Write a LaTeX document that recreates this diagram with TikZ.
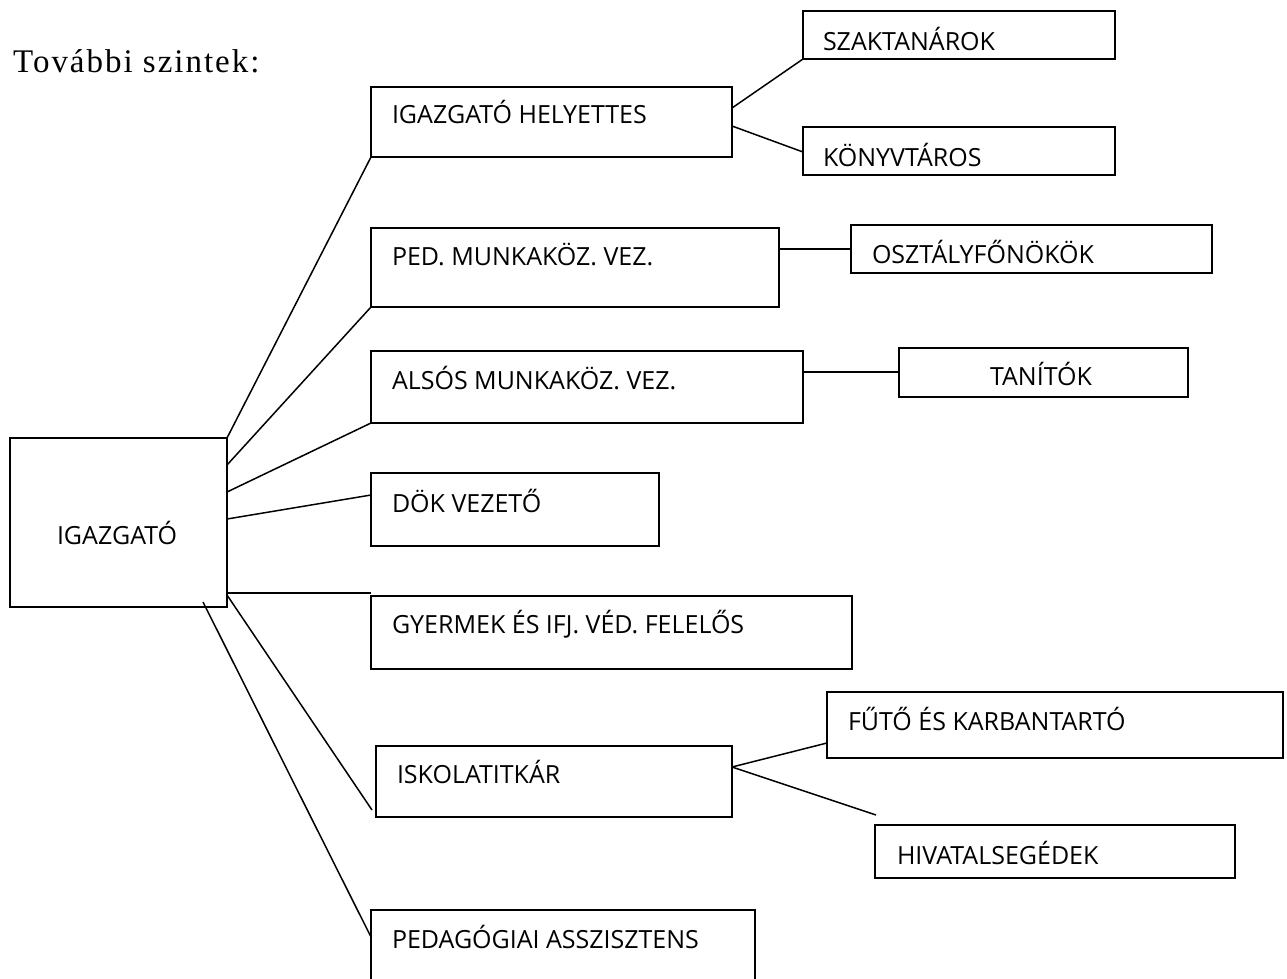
\documentclass[tikz,border=0pt]{standalone}
\usepackage{fontspec}
\setmainfont{Open Sans}
\newfontfamily\titlefont{Liberation Serif}[LetterSpace=6]
\usetikzlibrary{calc}
\begin{document}
\begin{tikzpicture}[x=1pt,y=-1pt,
  box/.style={draw, line width=1.8pt, inner sep=0pt, outer sep=0pt, anchor=north west},
  lbl/.style={anchor=base west, inner sep=0pt, outer sep=0pt, font=\fontsize{25}{30}\selectfont},
  conn/.style={line width=1.5pt}]
\useasboundingbox (0,0) rectangle (1287,978);
\clip (0,0) rectangle (1287,978);
% title
\node[anchor=base west, inner sep=0pt, font=\titlefont\fontsize{33}{38}\selectfont] (title) at (13,72) {További szintek:};
% boxes
\node[box, minimum width=217pt, minimum height=169pt] (igaz) at (10,438) {};
\node[box, minimum width=361pt, minimum height=70pt] (hely) at (371,87) {};
\node[box, minimum width=312pt, minimum height=48pt] (szak) at (803,11) {};
\node[box, minimum width=312pt, minimum height=48pt] (konyv) at (803,127) {};
\node[box, minimum width=408pt, minimum height=79pt] (ped) at (371,228) {};
\node[box, minimum width=361pt, minimum height=48pt] (oszt) at (851,225) {};
\node[box, minimum width=432pt, minimum height=72pt] (alsos) at (371,351) {};
\node[box, minimum width=289pt, minimum height=49pt] (tan) at (899,348) {};
\node[box, minimum width=288pt, minimum height=73pt] (dok) at (371,473) {};
\node[box, minimum width=481pt, minimum height=73pt] (gyer) at (371,596) {};
\node[box, minimum width=356pt, minimum height=71pt] (isk) at (376,746) {};
\node[box, minimum width=456pt, minimum height=66pt] (futo) at (827,692) {};
\node[box, minimum width=360pt, minimum height=53pt] (hiv) at (875,825) {};
\node[box, minimum width=384pt, minimum height=100pt] (pedassz) at (371,910) {};
% labels
\node[lbl] (tigaz) at ($(igaz.north west)+(47,106)$) {IGAZGATÓ};
\node[lbl] (thely) at ($(hely.north west)+(21,36)$) {IGAZGATÓ HELYETTES};
\node[lbl] (tszak) at ($(szak.north west)+(20,39)$) {SZAKTANÁROK};
\node[lbl] (tkonyv) at ($(konyv.north west)+(20,39)$) {KÖNYVTÁROS};
\node[lbl] (tped) at ($(ped.north west)+(21,37)$) {PED. MUNKAKÖZ. VEZ.};
\node[lbl] (toszt) at ($(oszt.north west)+(21,38)$) {OSZTÁLYFŐNÖKÖK};
\node[lbl] (talsos) at ($(alsos.north west)+(21,38)$) {ALSÓS MUNKAKÖZ. VEZ.};
\node[lbl] (ttan) at ($(tan.north west)+(91,37)$) {TANÍTÓK};
\node[lbl] (tdok) at ($(dok.north west)+(21,39)$) {DÖK VEZETŐ};
\node[lbl] (tgyer) at ($(gyer.north west)+(21,37)$) {GYERMEK ÉS IFJ. VÉD. FELELŐS};
\node[lbl] (tisk) at ($(isk.north west)+(21,37)$) {ISKOLATITKÁR};
\node[lbl] (tfuto) at ($(futo.north west)+(21,38)$) {FŰTŐ ÉS KARBANTARTÓ};
\node[lbl] (thiv) at ($(hiv.north west)+(22,39)$) {HIVATALSEGÉDEK};
\node[lbl] (tpedassz) at ($(pedassz.north west)+(21,38)$) {PEDAGÓGIAI ASSZISZTENS};
% connectors from IGAZGATÓ
\draw[conn] (igaz.north east) -- (hely.south west);
\draw[conn] ($(igaz.north east)+(0,27)$) -- (ped.south west);
\draw[conn] ($(igaz.north east)+(0,54)$) -- (alsos.south west);
\draw[conn] ($(igaz.north east)+(0,81)$) -- ($(dok.north west)+(0,22)$);
\draw[conn] ($(igaz.north east)+(0,155)$) -- ($(gyer.north west)+(0,-3)$);
\draw[conn] ($(igaz.north east)+(0,157)$) -- ($(isk.south west)+(-4,-7)$);
\draw[conn] ($(igaz.south west)+(193,-5)$) -- ($(pedassz.north west)+(0,27)$);
% second level
\draw[conn] ($(hely.north east)+(0,21)$) -- (szak.south west);
\draw[conn] ($(hely.north east)+(0,39)$) -- ($(konyv.north west)+(0,25)$);
\draw[conn] ($(ped.north east)+(0,21)$) -- ($(oszt.north west)+(0,24)$);
\draw[conn] ($(alsos.north east)+(0,21)$) -- ($(tan.north west)+(0,24)$);
\draw[conn] ($(isk.north east)+(0,21)$) -- ($(futo.south west)+(0,-15)$);
\draw[conn] ($(isk.north east)+(0,21)$) -- ($(hiv.north west)+(1,-10)$);
\end{tikzpicture}
\end{document}
